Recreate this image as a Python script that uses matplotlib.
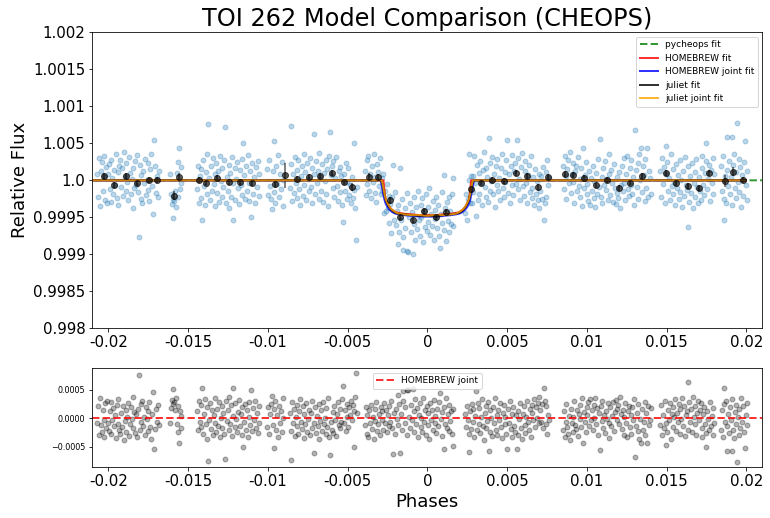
import numpy as np
import matplotlib
matplotlib.use("Agg")
import matplotlib.pyplot as plt

# phases (x1e-5), flux offsets from 1 (x1e-5) and residuals (x1e-5)
phase_e5 = [
    # segment 1
    -2068, -2062, -2057, -2051, -2046, -2040, -2035, -2029, -2024, -2018,
    -2013, -2007, -2002, -1996, -1991, -1985, -1980, -1974, -1969, -1963,
    -1958, -1952, -1947, -1941, -1936, -1930, -1925, -1919, -1914, -1908,
    -1903, -1897, -1892, -1886, -1881, -1875, -1870, -1864, -1859, -1853,
    -1848, -1842, -1837, -1831, -1826, -1820, -1815, -1808, -1803, -1797,
    -1792, -1786, -1781, -1775, -1770, -1764, -1759, -1753, -1748, -1742,
    -1737, -1731, -1726, -1717, -1711, -1705, -1700, -1694, -1689, -1683,
    # segment 2
    -1612, -1606, -1600, -1596, -1592, -1588, -1583, -1578, -1572, -1566,
    -1561, -1556, -1551, -1546, -1541,
    # segment 3
    -1444, -1438, -1433, -1427, -1421, -1416, -1412, -1406, -1400, -1395,
    -1389, -1384, -1378, -1374, -1367, -1362, -1356, -1351, -1345, -1340,
    -1334, -1329, -1323, -1318, -1312, -1307, -1301, -1296, -1290, -1285,
    -1279, -1274, -1268, -1263, -1257, -1252, -1246, -1241, -1235, -1230,
    -1224, -1219, -1215, -1208, -1203, -1197, -1192, -1186, -1181, -1175,
    -1170, -1164, -1159, -1153, -1148, -1142, -1137, -1131, -1126, -1120,
    -1115, -1109, -1103, -1098, -1092, -1087, -1081, -1076, -1070, -1064,
    -1058, -1053,
    # segment 4
    -1002, -996, -990, -984, -979, -975, -970, -964, -959, -953,
    -948, -942, -936, -930, -925, -919, -913, -907, -902,
    # segment 5
    -862, -857, -853, -847, -842, -836, -831, -825, -820, -814,
    -809, -803, -798, -792, -787, -781, -776, -770, -765, -759,
    -754, -748, -743, -737, -732, -726, -721, -713, -710, -704,
    -699, -693, -688, -682, -677, -671, -666, -660, -655, -649,
    -644, -638, -633, -627, -622, -616, -613, -605, -600, -594,
    -589, -583, -578, -572, -567, -561, -556, -550, -545, -539,
    -534, -530, -523, -517, -512, -506, -501, -495, -490, -484,
    -479, -473, -468, -462, -457, -451, -445, -440,
    # segment 6 (transit)
    -392, -386, -381, -375, -370, -364, -359, -353, -348, -342,
    -337, -331, -326, -320, -315, -309, -304, -298, -293, -287,
    -282, -276, -271, -265, -260, -254, -249, -243, -238, -232,
    -227, -221, -215, -210, -204, -199, -193, -186, -181, -175,
    -170, -164, -159, -153, -150, -142, -137, -130, -126, -120,
    -114, -109, -103, -97, -90, -86, -81, -75, -70, -64,
    -59, -53, -48, -42, -37, -31, -26, -20, -15, -9,
    -4, 2, 7, 13, 18, 24, 29, 35, 40, 46,
    51, 57, 62, 68, 73, 77, 84, 90, 95, 102,
    106, 112, 117, 123, 128, 134, 139, 145, 150, 155,
    159, 162,
    # segment 7
    238, 244, 250, 255, 260, 264, 269, 274, 279, 284,
    289, 295, 300, 305, 310, 316, 321, 327, 332, 338,
    343, 349, 354, 360, 365, 371, 376, 382, 385, 391,
    396, 402, 407, 413, 418, 424, 429, 435, 440, 446,
    451, 457, 462, 468, 473, 479, 484, 490, 495, 500,
    506, 511, 517, 522, 528, 533, 539, 544, 550, 555,
    560, 566, 571, 577, 582, 588, 593, 599, 604, 610,
    615, 621, 626, 632, 637, 643, 648, 654, 659, 665,
    670, 676, 681, 687, 692, 698, 703, 709, 714, 720,
    725, 730, 736, 741, 747, 752, 758, 763,
    # segment 8
    850, 856, 861, 867, 872, 878, 883, 889, 894, 900,
    905, 911, 916, 922, 927, 933, 938, 944, 949, 955,
    960, 966, 971, 977, 982, 988, 993, 999, 1004, 1010,
    1015, 1021, 1026, 1032, 1037, 1043, 1048, 1054, 1059, 1065,
    1070, 1076, 1080, 1087, 1092, 1098, 1103, 1109, 1114, 1120,
    1125, 1131, 1136, 1142, 1147, 1153, 1158, 1164, 1169, 1175,
    1180, 1186, 1191, 1197, 1202, 1208, 1213, 1219, 1224, 1230,
    1235, 1241, 1246, 1252, 1257, 1263, 1268, 1274, 1279, 1285,
    1290, 1296, 1300, 1307, 1312, 1318, 1323, 1329, 1334, 1340,
    1345, 1351, 1356, 1362, 1367, 1373, 1380, 1384, 1389, 1395,
    1400,
    # segment 9
    1460, 1466, 1471, 1477, 1482, 1488, 1494, 1499, 1505, 1510,
    1516, 1521, 1527, 1532, 1538, 1543, 1549, 1554, 1560, 1565,
    1571, 1576, 1582, 1587, 1593, 1598, 1604, 1609, 1615, 1620,
    1626, 1633, 1637, 1642, 1648, 1653, 1659, 1664, 1670, 1675,
    1681, 1686, 1692, 1697, 1703, 1708, 1714, 1719, 1725, 1730,
    1736, 1741, 1747, 1750, 1756, 1761, 1767, 1772, 1778, 1783,
    1789, 1794, 1800,
    # segment 10
    1840, 1846, 1851, 1857, 1860, 1866, 1871, 1877, 1880, 1886,
    1891, 1897, 1902, 1908, 1910, 1916, 1921, 1927, 1932, 1938,
    1940, 1946, 1951, 1957, 1962, 1968, 1973, 1979, 1984, 1990,
    1995, 2001, 2006,
]

resid_e5 = [
    -8, 22, -30, 35, -12, -25, 14, -33, -4, 26,
    -18, 31, -9, -22, 12, -27, 29, -3, 18, -14,
    6, -35, 24, -11, 33, -20, -28, 9, -16, 21,
    -38, -5, 15, -24, 2, 27, -31, -10, 19, -2,
    38, -17, 11, -26, 7, -34, 16, 77, -21, 25,
    -7, 30, -13, 3, -29, 20, -1, -23, 13, 28,
    -15, -36, 8, 46, -54, -19, 17, -6, 23, -12,
    -8, 18, 32, 25, 51, 28, 15, 36, -10, 22,
    -25, -44, 12, -18, 4,
    12, -20, 30, -6, 24, -15, 54, -28, 8, 33,
    -11, 19, -36, -76, -3, 26, -19, 14, -30, 5,
    35, -8, -24, 17, -13, 29, -33, 1, 22, -17,
    9, -27, -72, 31, -5, 15, -21, 38, -10, 23,
    -31, 4, 54, -16, 27, -2, -25, 11, 32, -14,
    7, -29, 20, -51, -7, 25, -20, 14, -34, 3,
    28, -12, 50, -23, 18, -4, 30, -18, 9, -26,
    21, -9,
    -15, 20, -28, 8, 25, 39, -12, -53, 16, 30,
    -20, 5, -34, 22, -8, 12, -25, 35, 0,
    10, -22, -74, 28, -9, 17, -31, 3, 24, -14,
    -27, 12, 33, -6, -19, 21, -35, 7, -11, 26,
    -24, -2, 15, -30, 9, -17, 31, -62, -8, 19,
    -26, 4, -13, 25, -37, -5, 14, -22, 29, -10,
    1, -28, 18, -15, 35, -33, -65, -7, -20, 11,
    -26, 22, -3, -31, 8, 28, -12, -18, 16, -6,
    34, 57, -9, 14, -23, 25, 2, -16, 20, 6,
    31, -4, 24, -51, 13, 37, 80, 9,
    -12, 20, -28, 5, -33, 14, -8, 24, -19, 2,
    -36, 17, -5, 29, -22, -11, 8, -30, 19, -3,
    12, -20, 27, -9, 14, -25, 6, -14, 22, -6,
    31, -18, -63, 10, -27, 16, -2, 41, -12, 25,
    -62, 7, -21, 30, 48, -9, 19, 49, -30, 50,
    3, -17, 23, -4, 52, 12, -25, 33, -11, 18,
    -34, 6, 27, -15, 1, -24, 36, -7, 15, -29,
    21, -12, 9, -37, 26, -3, 14, -20, 32, -8,
    4, -26, 17, -14, 28, 45, -1, -31, 11, -54,
    20, -10, 35, -18, 8, -23, 24, -5, 13, -28,
    -49, 16,
    8, -15, 21, -4, -28, -60, 12, -19, 25, -7,
    16, -33, 4, 48, -21, 27, -10, 18, -26, 3,
    33, -14, -38, 9, 22, -17, -5, 29, -57, 14,
    -24, 1, -32, 19, -9, 36, -20, 6, -29, 15,
    -3, 27, -16, -35, 10, 23, -11, 2, -27, -55,
    17, -8, 31, -19, 7, -34, 20, -13, -24, 5,
    -55, -30, 12, -2, 26, -18, -37, 8, 21, -12,
    -26, 3, 30, -7, -21, 16, -33, 10, 24, -4,
    34, -15, 19, 1, 27, -9, 38, 14, -6, 25,
    -18, 54, 30, -11, 22, -27, 6, -3,
    -20, 12, -33, -6, 25, -15, -28, 4, -38, 17,
    -9, -24, 2, 30, -12, -19, 14, -31, 8, -2,
    23, -16, 35, -44, 11, -7, -25, 19, 5, 28,
    -13, 33, -3, 15, -20, 24, 1, 36, -10, 18,
    -29, 9, -56, 22, -5, 31, -17, 6, -26, 13,
    -2, 27, -35, -8, 20, -14, 4, 29, -22, 11,
    32, -4, 17, 24, -11, 38, 7, -19, 15, -30,
    3, 26, -9, -33, 12, 21, -16, 6, -27, 19,
    -4, 34, -68, -14, 9, -23, 25, -36, -1, -44,
    16, -20, -7, 28, -29, 10, -44, 22, -12, -3,
    18,
    -12, 23, -30, 5, -18, 31, -47, -9, -25, 14,
    -3, 27, -36, 8, 19, -15, 2, 33, -22, 10,
    -7, 25, -28, 16, -1, 36, -13, 21, -32, 6,
    13, 63, -20, 29, -6, 17, -24, 38, 3, -11,
    22, -29, 9, 30, -4, 15, 26, -17, -33, 7,
    20, -10, -26, -51, 12, -2, -21, 28, -14, 4,
    -30, 18, -8,
    -20, 14, -33, 25, 54, -6, 30, -14, -58, 8,
    -26, 19, -4, 33, -58, -21, -35, 11, -11, 24,
    -78, 2, -29, 16, -18, 36, -7, 21, -25, -53,
    6, -12, 27,
]

flux_e5 = [
    8, -22, 30, -35, 12, 25, -14, 33, 4, -26,
    18, -31, 9, 22, -12, 27, -29, 3, -18, 14,
    -6, 35, -24, 11, -33, 20, 28, -9, 16, -21,
    38, 5, -15, 24, -2, -27, 31, 10, -19, 2,
    -38, 17, -11, 26, -7, 34, -16, -77, 21, -25,
    7, -30, 13, -3, 29, -20, 1, 23, -13, -28,
    15, 36, -8, -46, 54, 19, -17, 6, -23, 12,
    8, -18, -32, -25, -51, -28, -15, -36, 10, -22,
    25, 44, -12, 18, -4,
    -12, 20, -30, 6, -24, 15, -54, 28, -8, -33,
    11, -19, 36, 76, 3, -26, 19, -14, 30, -5,
    -35, 8, 24, -17, 13, -29, 33, -1, -22, 17,
    -9, 27, 72, -31, 5, -15, 21, -38, 10, -23,
    31, -4, -54, 16, -27, 2, 25, -11, -32, 14,
    -7, 29, -20, 51, 7, -25, 20, -14, 34, -3,
    -28, 12, -50, 23, -18, 4, -30, 18, -9, 26,
    -21, 9,
    15, -20, 28, -8, -25, -39, 12, 53, -16, -30,
    20, -5, 34, -22, 8, -12, 25, -35, 0,
    -10, 22, 74, -28, 9, -17, 31, -3, -24, 14,
    27, -12, -33, 6, 19, -21, 35, -7, 11, -26,
    24, 2, -15, 30, -9, 17, -31, 62, 8, -19,
    26, -4, 13, -25, 37, 5, -14, 22, -29, 10,
    -1, 28, -18, 15, -35, 33, 65, 7, 20, -11,
    26, -22, 3, 31, -8, -28, 12, 18, -16, 6,
    -34, -57, 9, -14, 23, -25, -2, 16, -20, -6,
    -31, 4, -24, 51, -13, -37, -80, -9,
    12, -20, 28, -5, 33, -14, 8, -24, 19, -2,
    36, -17, 5, -29, 22, 11, -8, 30, -19, 3,
    -15, 9, -44, -14, -41, -5, -38, -21, -58, -32,
    -71, -23, 21, -53, -16, -60, -42, -86, -33, -70,
    17, -53, -25, -76, -94, -37, -65, -95, -17, -97,
    -50, -30, -70, -43, -99, -59, -22, -80, -36, -66,
    -14, -54, -75, -33, -49, -24, -84, -41, -63, -19,
    -69, -36, -57, -11, -74, -45, -62, -28, -80, -40,
    -52, -22, -65, -34, -75, -92, -46, -16, -58, 7,
    -67, -37, -82, -29, -55, -23, -70, -41, -59, -18,
    3, -62,
    -44, -19, -53, -25, 1, 36, -31, 6, -31, 6,
    -16, 33, -4, -48, 21, -27, 10, -18, 26, -3,
    -33, 14, 38, -9, -22, 17, 5, -29, 57, -14,
    24, -1, 32, -19, 9, -36, 20, -6, 29, -15,
    3, -27, 16, 35, -10, -23, 11, -2, 27, 55,
    -17, 8, -31, 19, -7, 34, -20, 13, 24, -5,
    55, 30, -12, 2, -26, 18, 37, -8, -21, 12,
    26, -3, -30, 7, 21, -16, 33, -10, -24, 4,
    -34, 15, -19, -1, -27, 9, -38, -14, 6, -25,
    18, -54, -30, 11, -22, 27, -6, 3,
    20, -12, 33, 6, -25, 15, 28, -4, 38, -17,
    9, 24, -2, -30, 12, 19, -14, 31, -8, 2,
    -23, 16, -35, 44, -11, 7, 25, -19, -5, -28,
    13, -33, 3, -15, 20, -24, -1, -36, 10, -18,
    29, -9, 56, -22, 5, -31, 17, -6, 26, -13,
    2, -27, 35, 8, -20, 14, -4, -29, 22, -11,
    -32, 4, -17, -24, 11, -38, -7, 19, -15, 30,
    -3, -26, 9, 33, -12, -21, 16, -6, 27, -19,
    4, -34, 68, 14, -9, 23, -25, 36, 1, 44,
    -16, 20, 7, -28, 29, -10, 44, -22, 12, 3,
    -18,
    12, -23, 30, -5, 18, -31, 47, 9, 25, -14,
    3, -27, 36, -8, -19, 15, -2, -33, 22, -10,
    7, -25, 28, -16, 1, -36, 13, -21, 32, -6,
    -13, -63, 20, -29, 6, -17, 24, -38, -3, 11,
    -22, 29, -9, -30, 4, -15, -26, 17, 33, -7,
    -20, 10, 26, 51, -12, 2, 21, -28, 14, -4,
    30, -18, 8,
    20, -14, 33, -25, -54, 6, -30, 14, 58, -8,
    26, -19, 4, -33, 58, 21, 35, -11, 11, -24,
    78, -2, 29, -16, 18, -36, 7, -21, 25, 53,
    -6, 12, -27,
]

# binned points (phase x1e-5, flux offset x1e-5, error x1e-5)
bin_phase_e5 = [-2025, -1962, -1887, -1820, -1743, -1693, -1586, -1554, -1429, -1385,
                -1316, -1243, -1172, -1096, -954, -889, -814, -739, -671, -596,
                -525, -471, -364, -312, -237, -169, -92, -23, 52, 119,
                276, 335, 406, 479, 557, 626, 697, 755, 866, 912,
                981, 1056, 1125, 1200, 1270, 1345, 1494, 1558, 1633, 1703,
                1768, 1866, 1916, 1979]
bin_flux_e5 = [6, -6, 6, -4, 0, 0, -21, 4, 0, -3,
               3.5, -2, -2, -4, -5, 7, 2, 5, 6, 10,
               -2, -9, 4.5, 4, -27, -49, -54, -41.5, -50, -43,
               -12, -3, 0, -1, 9.5, 6, -9.5, 4, 8, 7,
               3, -7, 0, -11, -3, 6, 10, -4, -8, -10.5,
               10, -1, 11.5, 1]
bin_err_e5 = [4, 4, 4, 4, 4, 4, 6, 6, 4, 4,
              4, 4, 4, 4, 5, 17, 4, 4, 4, 4,
              4, 6, 5, 5, 5, 4, 4, 4, 4, 4,
              6, 4, 4, 4, 4, 4, 4, 4, 4, 4,
              4, 4, 4, 4, 4, 4, 4, 4, 4, 4,
              4, 8, 6, 4]

# model curves (phase x1e-5, flux offset x1e-5)
model_phase_e5 = [-2150, -295, -290, -285, -280, -275, -270, -265, -260, -250,
                  -240, -230, -220, -200, -180, -150, -100, -50, 0, 50,
                  100, 150, 180, 200, 220, 230, 240, 250, 260, 265,
                  270, 275, 280, 285, 290, 295, 1996]
homebrew_fit = [0, 0, 0, 0, 0, 0, -10, -20, -26, -31,
                -35, -38, -40, -43, -44, -45, -46, -47, -47, -47,
                -46, -45, -44, -43, -40, -38, -35, -31, -26, -20,
                -10, 0, 0, 0, 0, 0, 0]
homebrew_joint = [0, 0, -3, -8, -14, -20, -25, -29, -32, -36,
                  -39, -41, -43, -45, -46, -47, -48, -49, -49, -49,
                  -48, -47, -46, -45, -43, -41, -39, -36, -32, -29,
                  -25, -20, -14, -8, -3, 0, 0]
juliet_fit = [0, 0, 0, -2, -6, -12, -18, -23, -27, -32,
              -36, -39, -41, -44, -45, -46, -47, -48, -48, -48,
              -47, -46, -45, -44, -41, -39, -36, -32, -27, -23,
              -18, -12, -6, -2, 0, 0, 0]
juliet_joint = [0, 0, 0, -1, -5, -11, -17, -22, -26, -31,
                -35, -38, -40, -43, -45, -46, -47, -47, -48, -47,
                -47, -46, -45, -43, -40, -38, -35, -31, -26, -22,
                -17, -11, -5, -1, 0, 0, 0]
pycheops_phase_e5 = [-2150, -290, -285, -280, -275, -270, -260, -240, -200, -100, 0,
                     100, 200, 240, 260, 270, 275, 280, 285, 290, 2150]
pycheops_fit = [0, 0, -2, -6, -12, -18, -27, -36, -44, -47, -48,
                -47, -44, -36, -27, -18, -12, -6, -2, 0, 0]

xticks = [-0.02, -0.015, -0.01, -0.005, 0, 0.005, 0.01, 0.015, 0.02]
xticklabels = ['-0.02', '-0.015', '-0.01', '-0.005', '0', '0.005', '0.01', '0.015', '0.02']
yticks = [0.998, 0.9985, 0.999, 0.9995, 1.0, 1.0005, 1.001, 1.0015, 1.002]
yticklabels = ['0.998', '0.9985', '0.999', '0.9995', '1.0', '1.005', '1.001', '1.0015', '1.002']

e5 = 1e-5
phase = np.array(phase_e5) * e5
flux = 1 + np.array(flux_e5) * e5
resid = np.array(resid_e5) * e5

fig = plt.figure(figsize=(770 / 72, 518 / 72), dpi=72)
ax1 = fig.add_axes([0.1199, 0.3662, 0.8701, 0.5714])
ax2 = fig.add_axes([0.1199, 0.0985, 0.8701, 0.1905])

# top panel
ax1.scatter(phase, flux, s=24, color='C0', alpha=0.3)
ax1.errorbar(np.array(bin_phase_e5) * e5, 1 + np.array(bin_flux_e5) * e5,
             yerr=np.array(bin_err_e5) * e5, fmt='o', color='k', ms=6, alpha=0.65)
ax1.plot(np.array(pycheops_phase_e5) * e5, 1 + np.array(pycheops_fit) * e5,
         'g--', lw=2, alpha=0.8, label='pycheops fit')
mph = np.array(model_phase_e5) * e5
ax1.plot(mph, 1 + np.array(homebrew_fit) * e5, color='r', lw=2, alpha=0.8, label='HOMEBREW fit')
ax1.plot(mph, 1 + np.array(homebrew_joint) * e5, color='b', lw=2, alpha=0.8, label='HOMEBREW joint fit')
ax1.plot(mph, 1 + np.array(juliet_fit) * e5, color='k', lw=2, alpha=0.8, label='juliet fit')
ax1.plot(mph, 1 + np.array(juliet_joint) * e5, color='orange', lw=2, alpha=0.8, label='juliet joint fit')

ax1.set_xlim(-0.021, 0.021)
ax1.set_ylim(0.998, 1.002)
ax1.set_xticks(xticks)
ax1.set_xticklabels(xticklabels, fontsize=15)
ax1.set_yticks(yticks)
ax1.set_yticklabels(yticklabels, fontsize=15)
ax1.set_ylabel('Relative Flux', fontsize=18)
ax1.set_title('TOI 262 Model Comparison (CHEOPS)', fontsize=24)
ax1.legend(loc='upper right', fontsize=9)

# residual panel
ax2.scatter(phase, resid, s=24, color='k', alpha=0.3)
ax2.axhline(0, color='r', ls='--', lw=2, alpha=0.8, label='HOMEBREW joint')
ax2.set_xlim(-0.021, 0.021)
ax2.set_ylim(-0.00086, 0.00088)
ax2.set_xticks(xticks)
ax2.set_xticklabels(xticklabels, fontsize=15)
ax2.set_yticks([-0.0005, 0.0, 0.0005])
ax2.tick_params(axis='y', labelsize=8)
ax2.set_xlabel('Phases', fontsize=18)
ax2.legend(loc='upper center', fontsize=9)

fig.savefig('out.png', dpi=72)
